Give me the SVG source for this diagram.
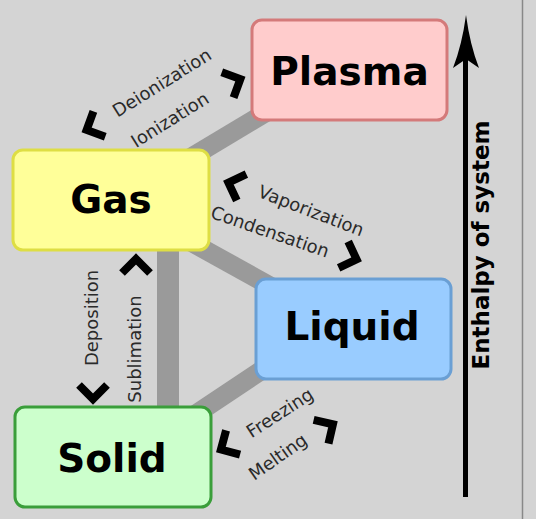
<svg xmlns="http://www.w3.org/2000/svg" width="536" height="519" viewBox="0 0 536 519">
<style>
.node{stroke-width:3}
.nlabel{font-family:"DejaVu Sans","Liberation Sans",sans-serif;font-weight:bold;font-size:39px;text-anchor:middle;fill:#000}
.lbl{font-family:"DejaVu Sans","Liberation Sans",sans-serif;font-size:18px;text-anchor:middle;fill:#2a2a2a}
.conn{stroke:#9a9a9a;stroke-width:19;fill:none}
</style>
<defs>
<path id="chev" d="M-7,-14 L7,0 L-7,14" fill="none" stroke="#000" stroke-width="8" stroke-linejoin="miter" stroke-miterlimit="10"/>
</defs>
<rect x="0" y="0" width="536" height="519" fill="#d4d4d4"/>
<line x1="522.5" y1="0" x2="522.5" y2="519" stroke="#888" stroke-width="1.5"/>

<g id="connectors">
<line class="conn" x1="180" y1="164" x2="280" y2="104"/>
<line class="conn" x1="180" y1="236" x2="290" y2="297"/>
<line class="conn" x1="168" y1="240" x2="168" y2="420" style="stroke-width:22"/>
<line class="conn" x1="190" y1="418" x2="280" y2="358"/>
</g>

<g id="transition-labels">
<g transform="translate(162,83) rotate(-32)"><text class="lbl" x="0" y="6">Deionization</text></g>
<g transform="translate(170,120) rotate(-32)"><text class="lbl" x="0" y="6">Ionization</text></g>
<use href="#chev" transform="translate(234,82) rotate(-25)"/>
<use href="#chev" transform="translate(93,127) rotate(155)"/>

<g transform="translate(311,211) rotate(21)"><text class="lbl" x="0" y="6">Vaporization</text></g>
<g transform="translate(270,232) rotate(19)"><text class="lbl" x="0" y="6">Condensation</text></g>
<use href="#chev" transform="translate(235,185) rotate(200)"/>
<use href="#chev" transform="translate(350,257) rotate(20)"/>

<g transform="translate(92,318) rotate(-90)"><text class="lbl" x="0" y="6">Deposition</text></g>
<g transform="translate(135,349) rotate(-90)"><text class="lbl" x="0" y="6">Sublimation</text></g>
<use href="#chev" transform="translate(93,392) rotate(90)"/>
<use href="#chev" transform="translate(136,266) rotate(-90)"/>

<g transform="translate(280,413) rotate(-33)"><text class="lbl" x="0" y="6">Freezing</text></g>
<g transform="translate(278,457) rotate(-35)"><text class="lbl" x="0" y="6">Melting</text></g>
<use href="#chev" transform="translate(227,446) rotate(150)"/>
<use href="#chev" transform="translate(327,428) rotate(-32)"/>
</g>

<g id="node-plasma">
<rect class="node" x="252" y="20" width="195" height="100" rx="10" fill="#ffcccc" stroke="#d47a7a"/>
<text class="nlabel" x="349.5" y="85">Plasma</text>
</g>
<g id="node-gas">
<rect class="node" x="13" y="150" width="196" height="100" rx="10" fill="#ffff99" stroke="#dede44"/>
<text class="nlabel" x="111" y="213">Gas</text>
</g>
<g id="node-liquid">
<rect class="node" x="256" y="279" width="195" height="100" rx="10" fill="#99ccff" stroke="#6a9fd4"/>
<text class="nlabel" x="352" y="340">Liquid</text>
</g>
<g id="node-solid">
<rect class="node" x="15" y="407" width="196" height="100" rx="10" fill="#ccffcc" stroke="#3a9e3a"/>
<text class="nlabel" x="112" y="472">Solid</text>
</g>

<g id="enthalpy-axis">
<line x1="465.5" y1="55" x2="465.5" y2="497" stroke="#000" stroke-width="5"/>
<path d="M466,15 Q470,45 479,68 L466,59 L453,68 Q462,45 466,15 Z" fill="#000"/>
<g transform="translate(481,245) rotate(-90)"><text x="0" y="8" style="font-family:'DejaVu Sans','Liberation Sans',sans-serif;font-weight:bold;font-size:23px;text-anchor:middle;fill:#000">Enthalpy of system</text></g>
</g>
</svg>
